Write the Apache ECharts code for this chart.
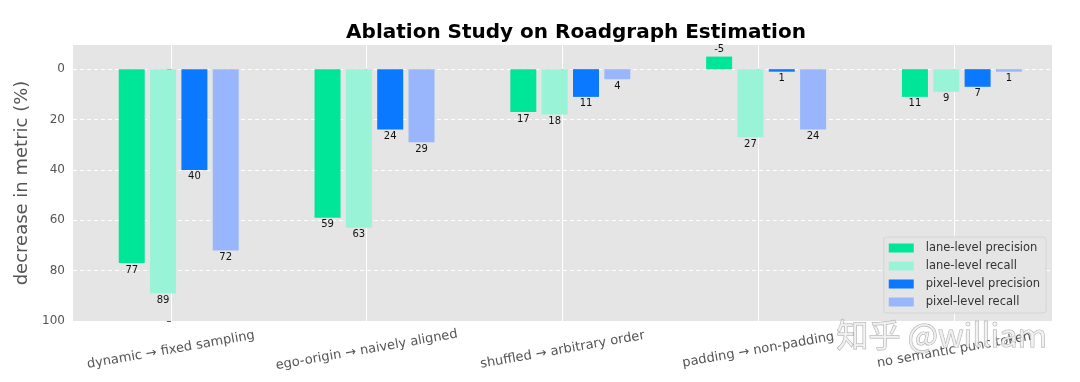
<!DOCTYPE html>
<html><head><meta charset="utf-8">
<script src="https://cdn.jsdelivr.net/npm/echarts@6/dist/echarts.min.js"></script>
<style>html,body{margin:0;padding:0;background:#fff}#c{width:1080px;height:382px}</style>
</head><body><div id="c"></div>
<script>
const categories = ['dynamic \u2192 fixed sampling','ego-origin \u2192 naively aligned','shuffled \u2192 arbitrary order','padding \u2192 non-padding','no semantic punc token'];
const seriesNames = ['lane-level precision','lane-level recall','pixel-level precision','pixel-level recall'];
const lanePrecision = [77,59,17,-5,11];
const laneRecall = [89,63,18,27,9];
const pixelPrecision = [40,24,11,1,7];
const pixelRecall = [72,29,4,24,1];
const yTicks = [0,20,40,60,80,100];
const xTicks = [0,1,2,3,4];
const colors = ['#00e699','#99f3d6','#0a78ff','#99b6fd'];
const FONT = 'DejaVu Sans';

const allValues = [lanePrecision, laneRecall, pixelPrecision, pixelRecall];
// matplotlib-style offsets: x + i*w - 0.2
const w = 0.16, shift = -0.2;

const series = allValues.map((vals, i) => ({
  name: seriesNames[i],
  type: 'bar',
  barWidth: 26,
  barGap: '-100%',
  itemStyle: {color: colors[i]},
  data: vals.map((v, k) => ({
    value: [k + shift + i * w, v],
    label: {position: v < 0 ? 'top' : 'bottom'}
  })),
  label: {
    show: true, distance: 2, color: '#111', fontSize: 10, fontFamily: FONT,
    formatter: p => String(p.value[1])
  }
}));

const chart = echarts.init(document.getElementById('c'));
chart.setOption({
  animation: false,
  backgroundColor: '#fff',
  title: {
    text: 'Ablation Study on Roadgraph Estimation',
    left: 571, top: 18, textAlign: 'center',
    textStyle: {fontFamily: FONT, fontSize: 20, fontWeight: 'bold', color: '#000'}
  },
  legend: {
    orient: 'vertical', right: 34, top: 237,
    icon: 'rect', itemWidth: 25, itemHeight: 9, itemGap: 4,
    padding: [4, 6, 4, 5],
    backgroundColor: '#e5e5e5', borderColor: '#d4d4d4', borderWidth: 1, borderRadius: 3,
    textStyle: {fontFamily: FONT, fontSize: 11.5, lineHeight: 14, color: '#333', padding: [0, 0, 0, 7]},
    data: seriesNames
  },
  grid: {left: 73, right: 28, top: 45, bottom: 61, show: true, backgroundColor: '#e5e5e5', borderWidth: 0},
  xAxis: {
    type: 'value', min: -0.5, max: 4.5,
    axisLine: {show: false},
    axisTick: {show: true, length: 4, lineStyle: {color: '#555'}, customValues: xTicks},
    axisLabel: {
      customValues: xTicks, rotate: 10, align: 'center', verticalAlign: 'middle', margin: 29,
      fontFamily: FONT, fontSize: 13, color: '#555',
      formatter: v => categories[Math.round(v)]
    },
    splitLine: {show: true, lineStyle: {color: '#fff', width: 1}}
  },
  yAxis: {
    type: 'value', inverse: true, min: -9.6, max: 100,
    name: 'decrease in metric (%)', nameLocation: 'middle', nameGap: 38,
    nameTextStyle: {fontFamily: FONT, fontSize: 18, color: '#555'},
    axisLine: {show: false},
    axisTick: {show: true, length: 4, lineStyle: {color: '#555'}, customValues: yTicks},
    axisLabel: {customValues: yTicks, margin: 8, fontFamily: FONT, fontSize: 12, color: '#555'},
    splitLine: {show: true, lineStyle: {color: '#fff', width: 1, type: [4, 3]}}
  },
  series: series,
  graphic: [{
    type: 'text', left: 836, top: 318, z: 100,
    style: {text: '\u77e5\u4e4e @william', font: '32px "Noto Sans CJK SC"',
      fill: 'rgba(240,240,240,0.85)', stroke: 'rgba(100,100,100,0.55)', lineWidth: 1}
  }]
});
</script></body></html>
